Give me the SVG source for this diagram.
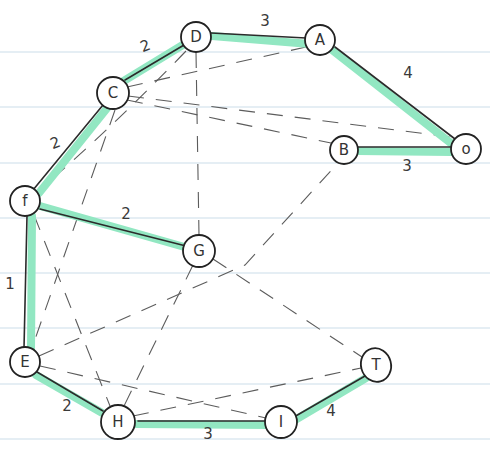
<svg xmlns="http://www.w3.org/2000/svg" width="490" height="456" viewBox="0 0 490 456">
<defs>
<style>
.rule{stroke:#dde9f1;stroke-width:1.3}
.hl{stroke:#92e7c2;stroke-width:8;stroke-linecap:round;fill:none}
.pen{stroke:#2b2b2b;stroke-width:1.6;stroke-linecap:round;fill:none}
.dash{stroke:#5c5c5c;stroke-width:1.1;stroke-dasharray:16 12;fill:none}
.node circle,.node ellipse{fill:#fff;stroke:#222;stroke-width:1.8}
.node text{font-family:"DejaVu Sans",sans-serif;font-size:15px;fill:#333;text-anchor:middle}
.w{font-family:"DejaVu Sans",sans-serif;font-size:15px;fill:#3a3a3a;text-anchor:middle}
</style>
</defs>
<rect width="490" height="456" fill="#fff"/>
<g id="paper">
<line class="rule" x1="0" y1="52" x2="490" y2="52"/>
<line class="rule" x1="0" y1="107" x2="490" y2="107"/>
<line class="rule" x1="0" y1="163" x2="490" y2="163"/>
<line class="rule" x1="0" y1="218" x2="490" y2="218"/>
<line class="rule" x1="0" y1="273" x2="490" y2="273"/>
<line class="rule" x1="0" y1="328" x2="490" y2="328"/>
<line class="rule" x1="0" y1="384" x2="490" y2="384"/>
<line class="rule" x1="0" y1="439" x2="490" y2="439"/>
</g>
<g id="connectors">
<path class="dash" d="M196,52 L199,235"/>
<path class="dash" d="M186,51 Q112,128 37,192"/>
<path class="dash" d="M127,87 L306,47"/>
<path class="dash" d="M128,96 L451,137"/>
<path class="dash" d="M127,100 L331,143"/>
<path class="dash" d="M115,110 L32,348"/>
<path class="dash" d="M34,215 L110,406"/>
<path class="dash" d="M39,356 L245,265 L337,164"/>
<path class="dash" d="M193,265 L124,406"/>
<path class="dash" d="M213,259 L362,357"/>
<path class="dash" d="M40,366 L266,418"/>
<path class="dash" d="M133,416 L361,368"/>
<path class="hl" d="M122,82 L186,43"/>
<path class="hl" d="M212,36 L310,44"/>
<path class="hl" d="M331,49 L452,144"/>
<path class="hl" d="M108,107 L39,193"/>
<path class="hl" d="M40,206 L188,248"/>
<path class="hl" d="M32,216 L31,350"/>
<path class="hl" d="M36,375 L104,414"/>
<path class="hl" d="M136,424 L268,425"/>
<path class="hl" d="M295,420 L366,378"/>
<path class="hl" d="M357,151 L452,152"/>
<path class="pen" d="M125,80 L184,45"/>
<path class="pen" d="M211,33 L306,38"/>
<path class="pen" d="M335,47 L455,139"/>
<path class="pen" d="M103,105 L33,190"/>
<path class="pen" d="M40,209 L186,246"/>
<path class="pen" d="M27,216 L24,348"/>
<path class="pen" d="M37,372 L103,411"/>
<path class="pen" d="M138,421 L267,421"/>
<path class="pen" d="M294,417 L365,376"/>
<path class="pen" d="M357,147 L453,147"/>
</g>
<g id="labels">
<text class="w" x="145" y="51" transform="rotate(-20 145 45)">2</text>
<text class="w" x="265" y="26">3</text>
<text class="w" x="408" y="78">4</text>
<text class="w" x="407" y="171">3</text>
<text class="w" x="55" y="148" transform="rotate(-20 55 142)">2</text>
<text class="w" x="126" y="219">2</text>
<text class="w" x="10" y="289">1</text>
<text class="w" x="67" y="411">2</text>
<text class="w" x="208" y="439">3</text>
<text class="w" x="331" y="416">4</text>
</g>
<g id="node-D" class="node"><circle cx="196" cy="37" r="15"/><text x="196" y="42">D</text></g>
<g id="node-A" class="node"><circle cx="320" cy="40" r="15"/><text x="320" y="45">A</text></g>
<g id="node-C" class="node"><circle cx="113" cy="93" r="16"/><text x="113" y="98">C</text></g>
<g id="node-O" class="node"><circle cx="466" cy="149" r="15"/><text x="466" y="154">o</text></g>
<g id="node-B" class="node"><circle cx="344" cy="150" r="14"/><text x="344" y="155">B</text></g>
<g id="node-F" class="node"><circle cx="25" cy="201" r="15"/><text x="25" y="206">f</text></g>
<g id="node-G" class="node"><circle cx="199" cy="251" r="16"/><text x="199" y="256">G</text></g>
<g id="node-E" class="node"><circle cx="25" cy="362" r="15"/><text x="25" y="367">E</text></g>
<g id="node-H" class="node"><circle cx="118" cy="422" r="17"/><text x="118" y="427">H</text></g>
<g id="node-I" class="node"><circle cx="281" cy="422" r="16"/><text x="281" y="427">I</text></g>
<g id="node-T" class="node"><ellipse cx="376" cy="365" rx="15" ry="17" transform="rotate(-15 376 365)"/><text x="376" y="370">T</text></g>
</svg>
